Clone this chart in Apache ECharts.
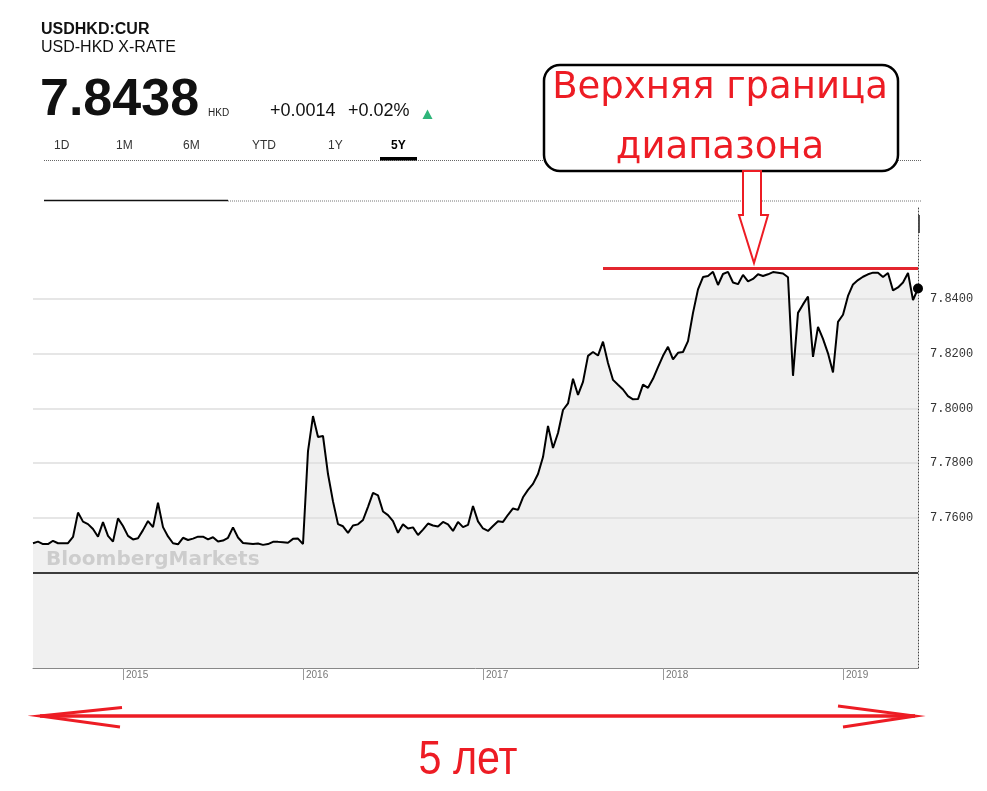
<!DOCTYPE html>
<html>
<head>
<meta charset="utf-8">
<script src="https://cdn.jsdelivr.net/npm/echarts@6/dist/echarts.min.js"></script>
<style>
  html, body { margin: 0; padding: 0; background: #fff; }
  #chart { width: 987px; height: 791px; }
</style>
</head>
<body>
<div id="chart"></div>
<script>
// ---- data ----
const rates = [
  7.7507, 7.7513, 7.7504, 7.7504, 7.7516, 7.7507, 7.7507, 7.7507, 7.7530, 7.7619,
  7.7586, 7.7577, 7.7559, 7.7531, 7.7584, 7.7534, 7.7513, 7.7598, 7.7570, 7.7534,
  7.7521, 7.7525, 7.7555, 7.7588, 7.7566, 7.7655, 7.7566, 7.7532, 7.7507, 7.7503,
  7.7527, 7.7519, 7.7524, 7.7531, 7.7531, 7.7521, 7.7529, 7.7513, 7.7517, 7.7527,
  7.7565, 7.7528, 7.7508, 7.7506, 7.7504, 7.7506, 7.7501, 7.7504, 7.7512, 7.7512,
  7.7511, 7.7509, 7.7523, 7.7524, 7.7504, 7.7844, 7.7972, 7.7895, 7.7899, 7.7760,
  7.7660, 7.7577, 7.7569, 7.7545, 7.7572, 7.7576, 7.7592, 7.7640, 7.7691, 7.7682,
  7.7623, 7.7610, 7.7588, 7.7545, 7.7576, 7.7561, 7.7565, 7.7537, 7.7557, 7.7579,
  7.7572, 7.7568, 7.7585, 7.7576, 7.7552, 7.7585, 7.7566, 7.7574, 7.7643, 7.7587,
  7.7561, 7.7552, 7.7570, 7.7587, 7.7585, 7.7611, 7.7634, 7.7629, 7.7675, 7.7702,
  7.7724, 7.7760, 7.7822, 7.7936, 7.7855, 7.7910, 7.7994, 7.8018, 7.8108, 7.8049,
  7.8097, 7.8192, 7.8206, 7.8193, 7.8244, 7.8166, 7.8104, 7.8086, 7.8069, 7.8045,
  7.8033, 7.8034, 7.8087, 7.8075, 7.8108, 7.8151, 7.8192, 7.8225, 7.8179, 7.8203,
  7.8206, 7.8246, 7.8349, 7.8435, 7.8480, 7.8484, 7.8499, 7.8451, 7.8491, 7.8499,
  7.8460, 7.8454, 7.8488, 7.8464, 7.8473, 7.8490, 7.8484, 7.8490, 7.8498, 7.8496,
  7.8493, 7.8479, 7.8119, 7.8349, 7.8380, 7.8409, 7.8188, 7.8298, 7.8254, 7.8201,
  7.8131, 7.8316, 7.8342, 7.8411, 7.8453, 7.8469, 7.8481, 7.8490, 7.8496, 7.8496,
  7.8480, 7.8495, 7.8431, 7.8442, 7.8460, 7.8495, 7.8396, 7.8438
];
const lastPrice = 7.8438;
const rangeStartDate = '2014-07-01';
const rangeEndDate = '2019-06-02';
const gridValues = [7.76, 7.78, 7.80, 7.82, 7.84];
const upperBand = 7.8512;
const upperBandStartIndex = 114;
const panelDivider = 7.7384;
const yMin = 7.7051;
const yMax = 7.8736;
const tabs = ['1D', '1M', '6M', 'YTD', '1Y', '5Y'];
const headerTicker = 'USDHKD:CUR';
const headerName = 'USD-HKD X-RATE';
const changeAbs = '+0.0014';
const changePct = '+0.02%';

// ---- category dates (evenly spaced samples across the 5-year window) ----
const t0 = Date.parse(rangeStartDate + 'T00:00:00Z');
const t1 = Date.parse(rangeEndDate + 'T00:00:00Z');
const stepMs = (t1 - t0) / (rates.length - 1);
const dates = rates.map((_, i) => new Date(t0 + i * stepMs).toISOString().slice(0, 10));
function isYearStart(i) {
  const a = new Date(t0 + i * stepMs - stepMs / 2).getUTCFullYear();
  const b = new Date(t0 + i * stepMs + stepMs / 2).getUTCFullYear();
  return a !== b;
}
function yearOf(i) {
  return String(new Date(t0 + i * stepMs + stepMs / 2).getUTCFullYear());
}

const RED = '#ed1c24';
const chart = echarts.init(document.getElementById('chart'), null, { renderer: 'canvas' });

const tabX = [54, 116, 183, 252, 328, 391];
const graphicEls = [
  { type: 'text', x: 41, y: 30, style: { text: headerTicker, font: 'bold 16px "Liberation Sans", Arial, sans-serif', fill: '#111', verticalAlign: 'middle' } },
  { type: 'text', x: 41, y: 48, style: { text: headerName, font: '16px "Liberation Sans", Arial, sans-serif', fill: '#111', verticalAlign: 'middle' } },
  { type: 'text', x: 40, y: 101, style: { text: String(lastPrice.toFixed(4)), font: 'bold 52px "Liberation Sans", Arial, sans-serif', fill: '#111', verticalAlign: 'middle' } },
  { type: 'text', x: 208, y: 113.5, style: { text: 'HKD', font: '10px "Liberation Sans", Arial, sans-serif', fill: '#222', verticalAlign: 'middle' } },
  { type: 'text', x: 270, y: 111, style: { text: changeAbs, font: '18px "Liberation Sans", Arial, sans-serif', fill: '#111', verticalAlign: 'middle' } },
  { type: 'text', x: 348, y: 111, style: { text: changePct, font: '18px "Liberation Sans", Arial, sans-serif', fill: '#111', verticalAlign: 'middle' } },
  { type: 'polygon', shape: { points: [[427.5, 109.5], [432.5, 119], [422.5, 119]] }, style: { fill: '#2fb57a' } },
  // separators
  { type: 'line', shape: { x1: 44, y1: 160.5, x2: 922, y2: 160.5 }, style: { stroke: '#666', lineWidth: 1, lineDash: [1, 1] } },
  { type: 'rect', shape: { x: 380, y: 157, width: 37, height: 3.5 }, style: { fill: '#000' } },
  { type: 'line', shape: { x1: 228, y1: 201, x2: 922, y2: 201 }, style: { stroke: '#777', lineWidth: 1, lineDash: [1, 1] } },
  { type: 'line', shape: { x1: 44, y1: 200.5, x2: 228, y2: 200.5 }, style: { stroke: '#111', lineWidth: 1.5 } },
  { type: 'rect', shape: { x: 918, y: 215, width: 2, height: 18 }, style: { fill: '#555' } },
  // watermark
  { type: 'text', x: 46, y: 560, z: 3, style: { text: 'BloombergMarkets', font: 'bold 20px "DejaVu Sans", sans-serif', fill: '#cdcdcd', verticalAlign: 'middle' } },
  // annotation box
  { type: 'rect', z: 20, shape: { x: 544, y: 65, width: 354, height: 106, r: 16 }, style: { fill: '#fff', stroke: '#000', lineWidth: 2.5 } },
  { type: 'text', z: 21, x: 720, y: 88.5, style: { text: 'Верхняя граница', font: '37px "DejaVu Sans", sans-serif', fill: RED, align: 'center', verticalAlign: 'middle' } },
  { type: 'text', z: 21, x: 720, y: 148, style: { text: 'диапазона', font: '37px "DejaVu Sans", sans-serif', fill: RED, align: 'center', verticalAlign: 'middle' } },
  { type: 'polygon', z: 21, shape: { points: [[743, 171], [761, 171], [761, 215], [768, 215], [754, 263], [739, 215], [743, 215]] }, style: { fill: '#fff', stroke: RED, lineWidth: 2 } },
  // bottom double arrow
  { type: 'line', shape: { x1: 40, y1: 716, x2: 915, y2: 716 }, style: { stroke: RED, lineWidth: 3.5 } },
  { type: 'polyline', shape: { points: [[122, 707.5], [40, 716], [120, 727]] }, style: { stroke: RED, lineWidth: 3, fill: null } },
  { type: 'polyline', shape: { points: [[838, 706], [915, 716], [843, 727]] }, style: { stroke: RED, lineWidth: 3, fill: null } },
  { type: 'text', x: 468, y: 761, scaleX: 0.86, style: { text: '5 лет', font: '48px "Liberation Sans Narrow", "Liberation Sans", sans-serif', fill: RED, align: 'center', verticalAlign: 'middle' } }
];
tabs.forEach((t, i) => {
  graphicEls.push({ type: 'text', x: tabX[i], y: 146, style: { text: t, font: (t === '5Y' ? 'bold ' : '') + '12px "Liberation Sans", Arial, sans-serif', fill: t === '5Y' ? '#000' : '#333', verticalAlign: 'middle' } });
});

const option = {
  animation: false,
  backgroundColor: '#fff',
  grid: { left: 33, right: 69, top: 207, bottom: 123, containLabel: false, outerBoundsMode: 'none' },
  xAxis: {
    type: 'category',
    data: dates,
    boundaryGap: false,
    axisLine: { show: true, lineStyle: { color: '#888', width: 1 } },
    axisTick: { show: true, interval: (i) => isYearStart(i), length: 12, lineStyle: { color: '#999', width: 1 } },
    axisLabel: {
      show: true, interval: (i) => isYearStart(i), formatter: (v, i) => yearOf(i),
      align: 'left', verticalAlign: 'top', margin: 2, padding: [0, 0, 0, 3],
      fontSize: 10, color: '#777', fontFamily: '"Liberation Sans", Arial, sans-serif'
    },
    splitLine: { show: false }
  },
  yAxis: {
    type: 'value',
    position: 'right',
    min: yMin, max: yMax,
    splitNumber: 8, minInterval: 0.02, maxInterval: 0.02,
    axisLine: { show: true, lineStyle: { color: '#444', width: 1, type: [1, 2] } },
    axisTick: { show: false },
    splitLine: { show: false },
    axisLabel: {
      showMinLabel: false, showMaxLabel: false, margin: 12,
      formatter: (v) => (v > 7.755 && v < 7.845) ? v.toFixed(4) : '',
      fontFamily: '"Liberation Mono", "DejaVu Sans Mono", monospace', fontSize: 12, color: '#333'
    }
  },
  graphic: { elements: graphicEls },
  series: [
    {
      name: 'area', type: 'line', data: rates, z: 1, symbol: 'none', silent: true,
      lineStyle: { width: 0, opacity: 0 },
      areaStyle: { color: '#f0f0f0', opacity: 1, origin: 'start' },
      markLine: {
        silent: true, symbol: ['none', 'none'], z: 2,
        label: { show: false },
        lineStyle: { color: '#dedede', width: 1.5, type: 'solid' },
        emphasis: { disabled: true },
        data: gridValues.map(v => ({ yAxis: v }))
      }
    },
    {
      name: 'USDHKD', type: 'line', data: rates, z: 3, symbol: 'none', silent: true,
      lineStyle: { color: '#000', width: 2 },
      markLine: {
        silent: true, symbol: ['none', 'none'], z: 4,
        label: { show: false },
        emphasis: { disabled: true },
        data: [
          { yAxis: panelDivider, lineStyle: { color: '#000', width: 1.5, type: 'solid' } },
          [
            { coord: [upperBandStartIndex, upperBand], lineStyle: { color: '#e3262e', width: 3, type: 'solid' } },
            { coord: [rates.length - 1, upperBand] }
          ]
        ]
      },
      markPoint: {
        silent: true, symbol: 'circle', symbolSize: 10,
        itemStyle: { color: '#000' }, label: { show: false },
        data: [{ coord: [rates.length - 1, lastPrice] }]
      }
    }
  ]
};
chart.setOption(option);
</script>
</body>
</html>
